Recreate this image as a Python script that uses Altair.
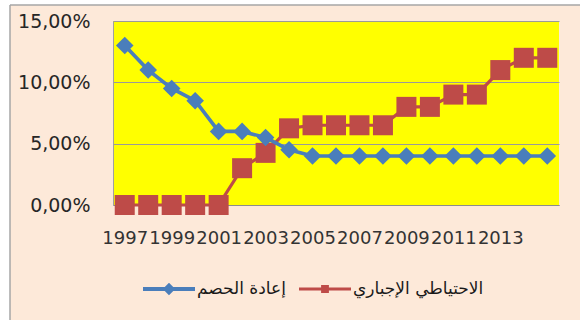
import altair as alt
import pandas as pd

years = list(range(1997, 2016))
rediscount_rate = [13, 11, 9.5, 8.5, 6, 6, 5.5, 4.5, 4, 4, 4, 4, 4, 4, 4, 4, 4, 4, 4]
reserve_ratio = [0, 0, 0, 0, 0, 3, 4.25, 6.25, 6.5, 6.5, 6.5, 6.5, 8, 8, 9, 9, 11, 12, 12]
series_names = ["إعادة الحصم", "الاحتياطي الإجباري"]
series_colors = ["#4A7EBB", "#BE4B48"]
y_ticks = [0, 0.05, 0.10, 0.15]
x_label_years = [1997, 1999, 2001, 2003, 2005, 2007, 2009, 2011, 2013]

rows = []
for name, vals in [(series_names[0], rediscount_rate), (series_names[1], reserve_ratio)]:
    for yr, v in zip(years, vals):
        rows.append({"year": yr, "value": v / 100, "series": name})
df = pd.DataFrame(rows)

FONT = "DejaVu Sans"
GRID = "#9A9A9A"

x = alt.X(
    "year:O",
    scale=alt.Scale(paddingInner=0, paddingOuter=0),
    axis=alt.Axis(
        values=x_label_years, labelAngle=0, ticks=False, labelPadding=24,
        labelFont=FONT, labelFontSize=18, labelColor="#333333",
        labelOverlap=False, labelFlush=False, domainColor="#8C8C8C",
        domainWidth=1, grid=False, title=None,
    ),
)
y = alt.Y(
    "value:Q",
    scale=alt.Scale(domain=[0, 0.15], nice=False),
    axis=alt.Axis(
        values=y_ticks, labelExpr="replace(format(datum.value, '.2%'), '.', ',')",
        ticks=False, labelPadding=23, labelFont=FONT, labelFontSize=19,
        labelColor="#262626", domainColor="#A0A0A0", grid=True,
        gridColor=GRID, gridWidth=1, title=None,
    ),
)

blue_name, red_name = series_names
blue_color, red_color = series_colors
red_line = alt.Chart(df).transform_filter(alt.datum.series == red_name).mark_line(
    strokeWidth=3.2, color=red_color).encode(x=x, y=y)
red_pts = alt.Chart(df).transform_filter(alt.datum.series == red_name).mark_point(
    shape="square", filled=True, size=400, opacity=1, strokeWidth=0, color=red_color).encode(x=x, y=y)
blue_line = alt.Chart(df).transform_filter(alt.datum.series == blue_name).mark_line(
    strokeWidth=3.6, color=blue_color).encode(x=x, y=y)
blue_pts = alt.Chart(df).transform_filter(alt.datum.series == blue_name).mark_point(
    shape="diamond", filled=True, size=310, opacity=1, strokeWidth=0, color=blue_color).encode(x=x, y=y)

legend_paths = [
    "M-1,-0.075H1V0.075H-1Z M0,-0.24L0.24,0L0,0.24L-0.24,0Z",
    "M-1,-0.06H1V0.06H-1Z M-0.15,-0.15H0.15V0.15H-0.15Z",
]
leg = dict(
    orient="none", legendX=30, legendY=242, direction="horizontal", title=None,
    symbolSize=2704, symbolStrokeWidth=0, symbolOpacity=1, labelOffset=2,
    columnPadding=13, labelFont=FONT, labelFontSize=17, labelColor="#1a1a1a",
    padding=0, labelLimit=400,
)
legend_layer = alt.Chart(df).mark_point(filled=True, size=0, strokeWidth=0).encode(
    x=x, y=y,
    fill=alt.Fill("series:N", scale=alt.Scale(domain=series_names, range=series_colors), legend=alt.Legend(**leg)),
    shape=alt.Shape("series:N", scale=alt.Scale(domain=series_names, range=legend_paths), legend=alt.Legend(**leg)),
)

deco = pd.DataFrame({"k": [0]})
white_left = alt.Chart(deco).mark_rect(color="white").encode(
    x=alt.value(-113), x2=alt.value(-103), y=alt.value(-21), y2=alt.value(299))
white_top = alt.Chart(deco).mark_rect(color="white").encode(
    x=alt.value(-113), x2=alt.value(467), y=alt.value(-21), y2=alt.value(-16))
border_left = alt.Chart(deco).mark_rule(color="#A6A6A6", strokeWidth=1.5).encode(
    x=alt.value(-103), y=alt.value(-16), y2=alt.value(299))
border_top = alt.Chart(deco).mark_rule(color="#A6A6A6", strokeWidth=1.5).encode(
    x=alt.value(-103), x2=alt.value(467), y=alt.value(-16))

chart = alt.layer(
    white_left, white_top, border_left, border_top,
    red_line, red_pts, blue_line, blue_pts, legend_layer,
).properties(
    width=446, height=184,
    autosize=alt.AutoSizeParams(type="none"),
    padding={"left": 113, "top": 21, "right": 21, "bottom": 115},
    background="#FDE9D9",
).configure_view(fill="#FFFF00", stroke=None)

chart.save("out.html", embed_options={"renderer": "svg", "actions": False})
